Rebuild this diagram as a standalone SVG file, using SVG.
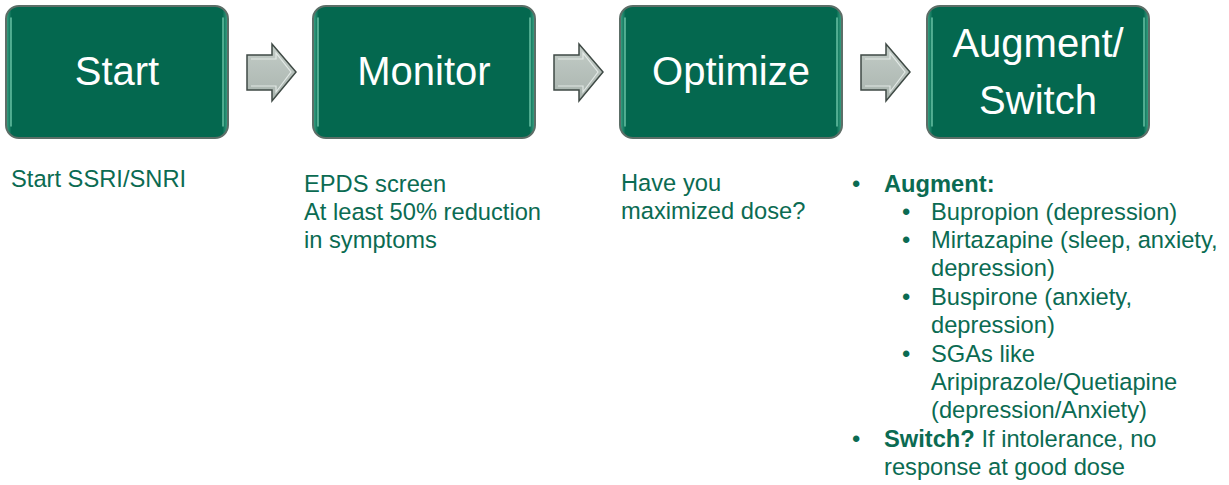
<svg xmlns="http://www.w3.org/2000/svg" width="1229" height="485" viewBox="0 0 1229 485">
<defs>
<linearGradient id="boxg" x1="0" y1="0" x2="1" y2="0">
<stop offset="0" stop-color="#3fa88a"/>
<stop offset="0.025" stop-color="#04684f"/>
<stop offset="0.975" stop-color="#04684f"/>
<stop offset="1" stop-color="#3fa88a"/>
</linearGradient>
<linearGradient id="arrg" x1="0" y1="0" x2="0" y2="1">
<stop offset="0" stop-color="#c3ccc7"/>
<stop offset="1" stop-color="#a9b4ae"/>
</linearGradient>
</defs>
<style>
.box{fill:url(#boxg);stroke:#5c6e67;stroke-width:2}
.hl{fill:none;stroke:#7fd4b8;stroke-width:1.5;stroke-linecap:round;opacity:0.8}
.arr{fill:url(#arrg);stroke:#3f4a45;stroke-width:1.5;stroke-linejoin:miter}
.bev{fill:none;stroke:#eef2f0;stroke-width:1.2;opacity:0.8}
.bt{font-family:"Liberation Sans",Arial,sans-serif;font-size:40px;fill:#ffffff;text-anchor:middle}
.t{font-family:"Liberation Sans",Arial,sans-serif;font-size:23.7px;fill:#0b6b52}
.b{font-weight:bold}
</style>
<g id="connectors">
<g transform="translate(247,0)">
<path class="arr" d="M0,55 H25 V44 L49,72 L25,101 V90 H0 Z"/>
<path class="bev" d="M4,59 H29 V53 L44,72 L29,92 V86 H4"/>
</g>
<g transform="translate(554,0)">
<path class="arr" d="M0,55 H25 V44 L49,72 L25,101 V90 H0 Z"/>
<path class="bev" d="M4,59 H29 V53 L44,72 L29,92 V86 H4"/>
</g>
<g transform="translate(861,0)">
<path class="arr" d="M0,55 H25 V44 L49,72 L25,101 V90 H0 Z"/>
<path class="bev" d="M4,59 H29 V53 L44,72 L29,92 V86 H4"/>
</g>
</g>
<g id="start">
<rect class="box" x="6" y="6" width="222" height="132" rx="13"/>
<path class="hl" d="M11,18 V126 M223,18 V126"/>
<text class="bt" x="117" y="85">Start</text>
<text class="t" x="11" y="187">Start SSRI/SNRI</text>
</g>
<g id="monitor">
<rect class="box" x="313" y="6" width="222" height="132" rx="13"/>
<path class="hl" d="M318,18 V126 M530,18 V126"/>
<text class="bt" x="424" y="85">Monitor</text>
<text class="t" x="304" y="192">EPDS screen</text>
<text class="t" x="304" y="220">At least 50% reduction</text>
<text class="t" x="304" y="248">in symptoms</text>
</g>
<g id="optimize">
<rect class="box" x="620" y="6" width="222" height="132" rx="13"/>
<path class="hl" d="M625,18 V126 M837,18 V126"/>
<text class="bt" x="731" y="85">Optimize</text>
<text class="t" x="621" y="191">Have you</text>
<text class="t" x="621" y="219">maximized dose?</text>
</g>
<g id="augment-switch">
<rect class="box" x="927" y="6" width="222" height="132" rx="13"/>
<path class="hl" d="M932,18 V126 M1144,18 V126"/>
<text class="bt" x="1038" y="57">Augment/</text>
<text class="bt" x="1038" y="114">Switch</text>
<text class="t" x="852" y="192">•</text>
<text class="t b" x="884" y="192">Augment:</text>
<text class="t" x="902" y="220">•</text>
<text class="t" x="931" y="220">Bupropion (depression)</text>
<text class="t" x="902" y="248">•</text>
<text class="t" x="931" y="248">Mirtazapine (sleep, anxiety,</text>
<text class="t" x="931" y="276">depression)</text>
<text class="t" x="902" y="305">•</text>
<text class="t" x="931" y="305">Buspirone (anxiety,</text>
<text class="t" x="931" y="333">depression)</text>
<text class="t" x="902" y="362">•</text>
<text class="t" x="931" y="362">SGAs like</text>
<text class="t" x="931" y="390">Aripiprazole/Quetiapine</text>
<text class="t" x="931" y="418">(depression/Anxiety)</text>
<text class="t" x="852" y="447">•</text>
<text class="t" x="884" y="447"><tspan class="b">Switch?</tspan> If intolerance, no</text>
<text class="t" x="884" y="475">response at good dose</text>
</g>
</svg>
